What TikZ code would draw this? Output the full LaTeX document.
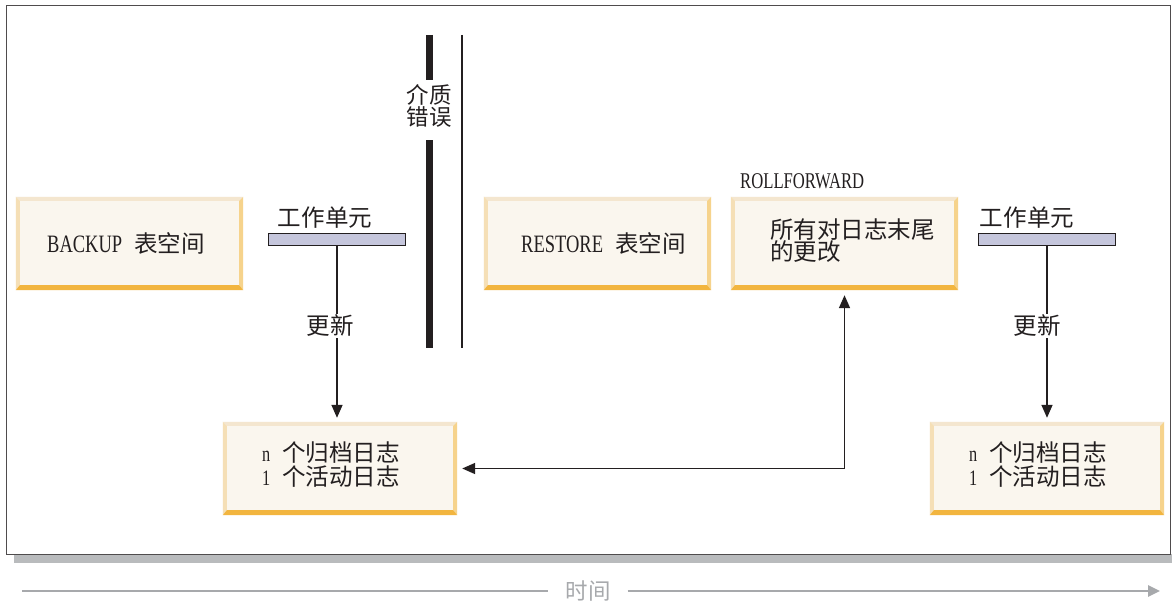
\documentclass[tikz,border=0pt]{standalone}
\usepackage{fontspec}
\setmainfont[FakeStretch=0.74]{Liberation Serif}
\newfontfamily\cjk[Scale=1.07]{Noto Sans CJK SC}
\usetikzlibrary{arrows.meta}
\definecolor{boxfill}{HTML}{FAF6EE}
\definecolor{bevtop}{HTML}{F4E6CF}
\definecolor{bevleft}{HTML}{F5DFB6}
\definecolor{bevright}{HTML}{F6D38C}
\definecolor{bevbot}{HTML}{F2B53F}
\definecolor{uwfill}{HTML}{C5C6DC}
\definecolor{ink}{HTML}{231F20}
\definecolor{shadowgray}{HTML}{B9BBBD}
\definecolor{timegray}{HTML}{A7A9AC}
\newcommand{\bevel}[1]{%
  \fill[bevtop] (#1.north west) -- (#1.north east) -- ([xshift=-4pt,yshift=-4pt]#1.north east) -- ([xshift=4pt,yshift=-4pt]#1.north west) -- cycle;
  \fill[bevleft] (#1.north west) -- ([xshift=4pt,yshift=-4pt]#1.north west) -- ([xshift=4pt,yshift=5pt]#1.south west) -- (#1.south west) -- cycle;
  \fill[bevright] (#1.north east) -- ([xshift=-4pt,yshift=-4pt]#1.north east) -- ([xshift=-4pt,yshift=5pt]#1.south east) -- (#1.south east) -- cycle;
  \fill[bevbot] (#1.south west) -- ([xshift=4pt,yshift=5pt]#1.south west) -- ([xshift=-4pt,yshift=5pt]#1.south east) -- (#1.south east) -- cycle;
}
\newcommand{\gap}{\hspace{12pt}}
\begin{document}
\begin{tikzpicture}[x=1pt,y=-1pt,
  every node/.style={font=\fontsize{22}{24}\selectfont, text=ink},
  bevbox/.style={minimum width=227pt, minimum height=93pt, inner sep=0pt, fill=boxfill},
  widebox/.style={bevbox, minimum width=234pt},
  boxtext/.style={anchor=west, align=left, inner sep=0pt},
  bigtext/.style={boxtext, font=\fontsize{25}{26}\selectfont},
  cjklbl/.style={inner sep=1pt, font=\cjk\fontsize{22}{22}\selectfont},
  uwbar/.style={draw=ink, line width=1.6pt, fill=uwfill, minimum width=137pt, minimum height=12pt, inner sep=0pt},
  conn/.style={draw=ink, line width=1.6pt},
  arr/.style={conn, -{Triangle[length=13pt,width=11pt]}},
]
\useasboundingbox (0,0) rectangle (1172,602);
% frame and shadow
\fill[shadowgray] (14,554) rectangle (1172,563);
\draw[draw=ink!80, line width=1pt, fill=white] (6,6) rectangle (1170,554);

\node[bevbox] (backup) at (129.5,243.5) {};
\bevel{backup}
\node[bigtext] (backuptext) at (47,243.5) {BACKUP\gap{\cjk\fontsize{22}{22}\selectfont 表空间}};
\node[bevbox] (restore) at (597.5,243.5) {};
\bevel{restore}
\node[bigtext] (restoretext) at (521,243.5) {RESTORE\gap{\cjk\fontsize{22}{22}\selectfont 表空间}};
\node[bevbox] (rf) at (844.5,243.5) {};
\bevel{rf}
\node[boxtext, font=\cjk\fontsize{22}{22}\selectfont] (rftext) at (770,241) {所有对日志末尾\\的更改};
\node[anchor=west, inner sep=0pt, font=\fontsize{22.5}{24}\selectfont] (rflabel) at (740,181) {ROLLFORWARD};

\node[widebox] (log1) at (340,468.5) {};
\bevel{log1}
\node[boxtext] (log1text) at (262,465) {n\gap{\cjk 个归档日志}\\1\gap{\cjk 个活动日志}};
\node[widebox] (log2) at (1047,468.5) {};
\bevel{log2}
\node[boxtext] (log2text) at (969,465) {n\gap{\cjk 个归档日志}\\1\gap{\cjk 个活动日志}};

% units of work
\node[uwbar] (uw1) at (337,239.5) {};
\node[cjklbl] (uw1lbl) at (325,218) {工作单元};
\node[uwbar] (uw2) at (1047,239.5) {};
\node[cjklbl] (uw2lbl) at (1027,218) {工作单元};

\draw[arr, shorten >=4pt] (uw1.south) -- (uw1.south |- log1.north);
\draw[arr, shorten >=4pt] (uw2.south) -- (uw2.south |- log2.north);
\node[cjklbl, fill=white] (upd1) at (330,326) {更新};
\node[cjklbl, fill=white] (upd2) at (1037,326) {更新};

% media error
\coordinate (mtop) at (429,35);
\coordinate (mbot) at (429,348);
\node[inner sep=0pt, minimum height=60pt, align=center, font=\cjk\fontsize{21}{22}\selectfont] (merr) at (429,106) {介质\\错误};
\draw[ink, line width=7pt] (mtop) -- (429,80);
\draw[ink, line width=7pt] (429,140) -- (mbot);
\coordinate (ttop) at (462,35);
\coordinate (tbot) at (462,348);
\draw[conn] (ttop) -- (tbot);

% rollforward arrow
\draw[conn, {Triangle[length=13pt,width=11pt]}-{Triangle[length=13pt,width=11pt]}, shorten <=5pt, shorten >=5pt] (log1.east) -| (rf.south);

% time axis
\node[inner xsep=17pt, inner ysep=0pt, text=timegray, font=\cjk\fontsize{21}{22}\selectfont] (time) at (588,591) {时间};
\coordinate (tstart) at (22,591);
\coordinate (tend) at (1160,591);
\draw[timegray, line width=2.5pt] (tstart) -- (time.west);
\draw[timegray, line width=2.5pt, -{Triangle[length=12pt,width=11pt]}] (time.east) -- (tend);
\end{tikzpicture}
\end{document}
